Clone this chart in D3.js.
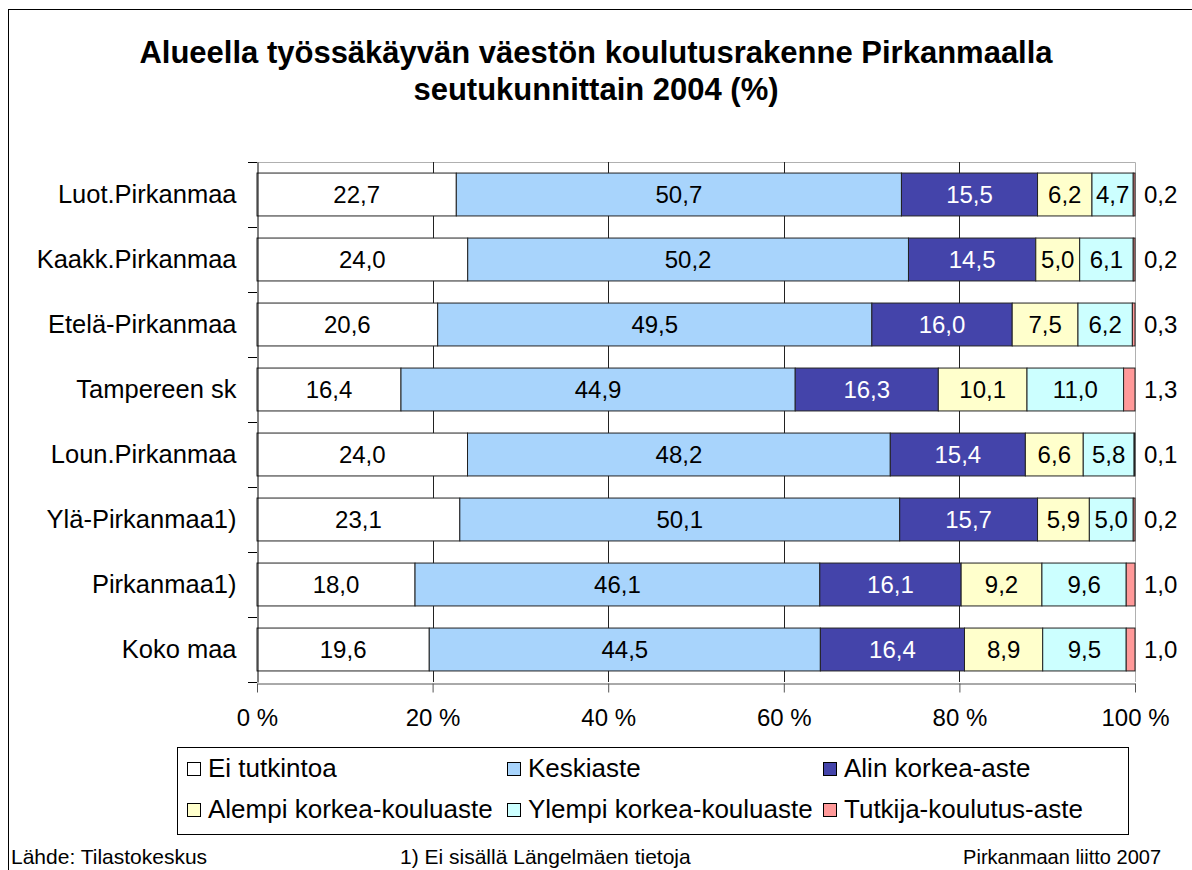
<!DOCTYPE html>
<html>
<head>
<meta charset="utf-8">
<script src="https://cdn.jsdelivr.net/npm/d3@7"></script>
<style>
  body { margin: 0; background: #fff; }
  svg text { font-family: "Liberation Sans", Arial, sans-serif; }
</style>
</head>
<body>
<div id="vis"></div>
<script>
// data
const CATEGORIES = ["Luot.Pirkanmaa", "Kaakk.Pirkanmaa", "Etelä-Pirkanmaa", "Tampereen sk",
                    "Loun.Pirkanmaa", "Ylä-Pirkanmaa1)", "Pirkanmaa1)", "Koko maa"];
const SERIES = ["Ei tutkintoa", "Keskiaste", "Alin korkea-aste",
                "Alempi korkea-kouluaste", "Ylempi korkea-kouluaste", "Tutkija-koulutus-aste"];
const EI_TUTKINTOA = [22.7, 24.0, 20.6, 16.4, 24.0, 23.1, 18.0, 19.6];
const KESKIASTE    = [50.7, 50.2, 49.5, 44.9, 48.2, 50.1, 46.1, 44.5];
const ALIN_KORKEA  = [15.5, 14.5, 16.0, 16.3, 15.4, 15.7, 16.1, 16.4];
const ALEMPI_KORKEA = [6.2, 5.0, 7.5, 10.1, 6.6, 5.9, 9.2, 8.9];
const YLEMPI_KORKEA = [4.7, 6.1, 6.2, 11.0, 5.8, 5.0, 9.6, 9.5];
const TUTKIJA      = [0.2, 0.2, 0.3, 1.3, 0.1, 0.2, 1.0, 1.0];
const X_TICKS = [0, 20, 40, 60, 80, 100];
const COLORS = ["#ffffff", "#a8d4fc", "#4444aa", "#ffffcc", "#ccffff", "#ff9999"];
const LABEL_COLORS = ["#000", "#000", "#fff", "#000", "#000", "#000"];

// constants for the layout
const FRAME_WIDTH = 1192;
const FRAME_HEIGHT = 870;
const PLOT = {left: 257, top: 162, width: 878, height: 520};

const FRAME = d3.select("#vis")
  .append("svg")
  .attr("width", FRAME_WIDTH)
  .attr("height", FRAME_HEIGHT);

// outer frame (cropped at right and bottom)
FRAME.append("rect")
  .attr("x", 8.5).attr("y", 9.5)
  .attr("width", 1300).attr("height", 1000)
  .attr("fill", "none").attr("stroke", "#000");

// title
FRAME.append("text")
  .attr("x", 596).attr("y", 63)
  .attr("text-anchor", "middle")
  .attr("font-size", "31px").attr("font-weight", "bold")
  .text("Alueella työssäkäyvän väestön koulutusrakenne Pirkanmaalla");
FRAME.append("text")
  .attr("x", 596).attr("y", 100)
  .attr("text-anchor", "middle")
  .attr("font-size", "31px").attr("font-weight", "bold")
  .text("seutukunnittain 2004 (%)");

// build rows from the series arrays
const VALUES = [EI_TUTKINTOA, KESKIASTE, ALIN_KORKEA, ALEMPI_KORKEA, YLEMPI_KORKEA, TUTKIJA];
const ROWS = CATEGORIES.map((c, i) => {
  const row = {category: c};
  SERIES.forEach((s, j) => { row[s] = VALUES[j][i]; });
  return row;
});

const STACK = d3.stack().keys(SERIES).offset(d3.stackOffsetExpand)(ROWS);

const X_SCALE = d3.scaleLinear()
  .domain([0, 1])
  .range([PLOT.left, PLOT.left + PLOT.width]);

const Y_SCALE = d3.scaleBand()
  .domain(CATEGORIES)
  .range([PLOT.top, PLOT.top + PLOT.height])
  .paddingInner(0.34)
  .paddingOuter(0.17);

// plot area border (top and right)
FRAME.append("path")
  .attr("d", `M${PLOT.left},${PLOT.top + 0.5}H${PLOT.left + PLOT.width + 0.5}V${PLOT.top + PLOT.height}`)
  .attr("fill", "none").attr("stroke", "#b0b0b0");

// vertical grid lines
FRAME.append("g")
  .selectAll("line")
  .data(X_TICKS.slice(1, -1))
  .enter()
  .append("line")
  .attr("x1", (d) => Math.round(X_SCALE(d / 100)) + 0.5)
  .attr("x2", (d) => Math.round(X_SCALE(d / 100)) + 0.5)
  .attr("y1", PLOT.top)
  .attr("y2", PLOT.top + PLOT.height)
  .attr("stroke", "#222");

// bars
const LAYERS = FRAME.append("g")
  .selectAll("g")
  .data(STACK)
  .enter()
  .append("g")
  .attr("fill", (d, i) => COLORS[i]);

LAYERS.selectAll("rect")
  .data((d) => d)
  .enter()
  .append("rect")
  .attr("x", (d) => X_SCALE(d[0]))
  .attr("y", (d) => Y_SCALE(d.data.category))
  .attr("width", (d) => X_SCALE(d[1]) - X_SCALE(d[0]))
  .attr("height", Y_SCALE.bandwidth())
  .attr("stroke", "#222")
  .attr("stroke-width", 1);

// value labels
STACK.forEach((layer, i) => {
  FRAME.append("g")
    .selectAll("text")
    .data(layer)
    .enter()
    .append("text")
    .attr("x", (d) => i === SERIES.length - 1
      ? X_SCALE(1) + 9
      : (X_SCALE(d[0]) + X_SCALE(d[1])) / 2)
    .attr("y", (d) => Y_SCALE(d.data.category) + Y_SCALE.bandwidth() / 2)
    .attr("dy", "0.36em")
    .attr("text-anchor", i === SERIES.length - 1 ? "start" : "middle")
    .attr("font-size", "24px")
    .attr("fill", LABEL_COLORS[i])
    .text((d) => d3.format(".1f")(d.data[layer.key]).replace(".", ","));
});

// y axis with category labels
FRAME.append("g")
  .attr("transform", "translate(" + (PLOT.left + 0.5) + ",0)")
  .call(d3.axisLeft(Y_SCALE).tickSize(0).tickPadding(21))
  .call((g) => g.select(".domain").attr("stroke", "#000"))
  .selectAll("text")
  .attr("font-size", "25.5px")
  .attr("fill", "#000");

// y axis ticks sit on band boundaries
FRAME.append("g")
  .selectAll("line")
  .data(d3.range(CATEGORIES.length + 1))
  .enter()
  .append("line")
  .attr("x1", PLOT.left - 9)
  .attr("x2", PLOT.left)
  .attr("y1", (d) => Math.round(PLOT.top + d * Y_SCALE.step()) + 0.5)
  .attr("y2", (d) => Math.round(PLOT.top + d * Y_SCALE.step()) + 0.5)
  .attr("stroke", "#000");

// x axis
FRAME.append("g")
  .attr("transform", "translate(0," + (PLOT.top + PLOT.height + 1.5) + ")")
  .call(d3.axisBottom(X_SCALE)
    .tickValues(X_TICKS.map((d) => d / 100))
    .tickSize(9)
    .tickSizeOuter(0)
    .tickPadding(16)
    .tickFormat((d) => Math.round(d * 100) + " %"))
  .call((g) => g.selectAll("line, .domain").attr("stroke", "#555"))
  .selectAll("text")
  .attr("font-size", "24px")
  .attr("fill", "#000");

// legend
const LEGEND = FRAME.append("g");
LEGEND.append("rect")
  .attr("x", 177.5).attr("y", 747.5)
  .attr("width", 951).attr("height", 87)
  .attr("fill", "#fff").attr("stroke", "#000");

const LEGEND_COLS = [187, 507, 823];
const LEGEND_ROWS = [768, 809];
SERIES.forEach((s, i) => {
  const x = LEGEND_COLS[i % 3];
  const y = LEGEND_ROWS[Math.floor(i / 3)];
  LEGEND.append("rect")
    .attr("x", x + 0.5).attr("y", y - 5.5)
    .attr("width", 13).attr("height", 13)
    .attr("fill", COLORS[i]).attr("stroke", "#000");
  LEGEND.append("text")
    .attr("x", x + 21).attr("y", y)
    .attr("dy", "0.36em")
    .attr("font-size", "26px")
    .text(s);
});

// footer
FRAME.append("text")
  .attr("x", 11).attr("y", 864)
  .attr("font-size", "21px")
  .text("Lähde: Tilastokeskus");
FRAME.append("text")
  .attr("x", 400).attr("y", 864)
  .attr("font-size", "21px")
  .text("1) Ei sisällä Längelmäen tietoja");
FRAME.append("text")
  .attr("x", 1161).attr("y", 864)
  .attr("text-anchor", "end")
  .attr("font-size", "20px")
  .text("Pirkanmaan liitto 2007");
</script>
</body>
</html>
